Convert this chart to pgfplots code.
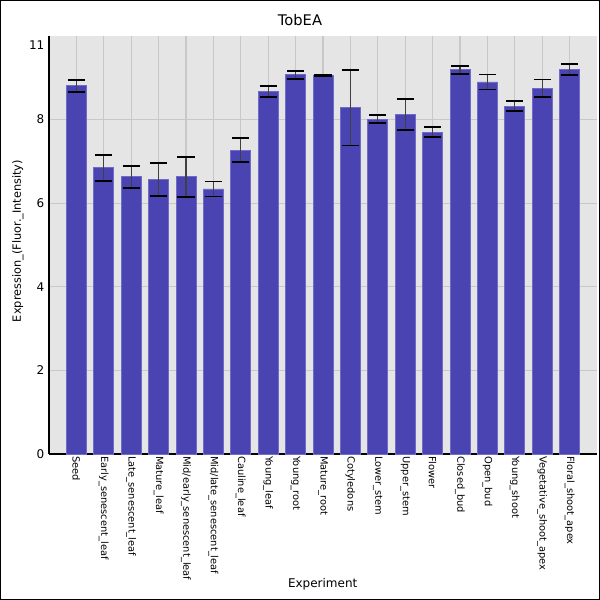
\documentclass[border=0pt]{standalone}
\usepackage{pgfplots}
\pgfplotsset{compat=1.18}
\usepackage{fontspec}
\setmainfont{DejaVu Sans}
\definecolor{barfill}{RGB}{74,68,178}
\definecolor{baredge}{RGB}{112,106,200}
\definecolor{bggray}{RGB}{229,229,229}
\definecolor{gridgray}{RGB}{200,200,200}
\pgfplotstableread{
x y e
0 8.81 0.14
1 6.85 0.31
2 6.63 0.27
3 6.57 0.39
4 6.63 0.48
5 6.34 0.18
6 7.27 0.29
7 8.68 0.13
8 9.07 0.10
9 9.05 0.02
10 8.28 0.90
11 8.01 0.09
12 8.13 0.37
13 7.70 0.12
14 9.19 0.10
15 8.90 0.18
16 8.32 0.12
17 8.75 0.21
18 9.19 0.13
}\datatable
\begin{document}
\begin{tikzpicture}[x=1pt,y=1pt]
\useasboundingbox (0,0) rectangle (450,450);
\draw[black, line width=0.75pt] (0.375,0.375) rectangle (449.625,449.625);
\begin{axis}[
  at={(36.75pt,109.5pt)}, anchor=south west,
  scale only axis, width=411pt, height=313.5pt,
  xmin=-1, xmax=19, ymin=0, ymax=10,
  axis lines=left,
  axis line style={-, black, line width=0.9pt},
  axis background/.style={fill=bggray},
  ytick={0,2,4,6,8},
  extra y ticks={9.78}, extra y tick labels={11},
  extra y tick style={grid=none},
  xtick={0,...,18},
  xticklabels={Seed,Early\_senescent\_leaf,Late\_senescent\_leaf,Mature\_leaf,Mid/early\_senescent\_leaf,Mid/late\_senescent\_leaf,Cauline\_leaf,Young\_leaf,Young\_root,Mature\_root,Cotyledons,Lower\_stem,Upper\_stem,Flower,Closed\_bud,Open\_bud,Young\_shoot,Vegetative\_shoot\_apex,Floral\_shoot\_apex},
  xticklabel style={rotate=-90, anchor=west, font=\fontsize{7.4}{8}\selectfont, inner sep=1.5pt},
  yticklabel style={font=\fontsize{9}{10}\selectfont},
  /pgf/number format/assume math mode=true,
  grid=major,
  grid style={gridgray, line width=0.9pt},
  major tick length=0pt,
  clip=false,
]
\addplot[ybar, bar width=15pt, bar shift=0pt, fill=barfill, draw=baredge, line width=0.6pt,
  error bars/.cd, y dir=both, y explicit,
  error bar style={black!75, line width=1pt},
  error mark options={black, rotate=90, mark size=6.4pt, line width=1.4pt}]
  table[x=x, y=y, y error=e] {\datatable};
\end{axis}
\node[font=\fontsize{11}{13}\selectfont] at (225,435) {TobEA};
\node[font=\fontsize{8.5}{10}\selectfont, rotate=90] at (13.5,269.25) {Expression\_(Fluor.\_Intensity)};
\node[font=\fontsize{9}{10}\selectfont] at (242,11.5) {Experiment};
\end{tikzpicture}
\end{document}
